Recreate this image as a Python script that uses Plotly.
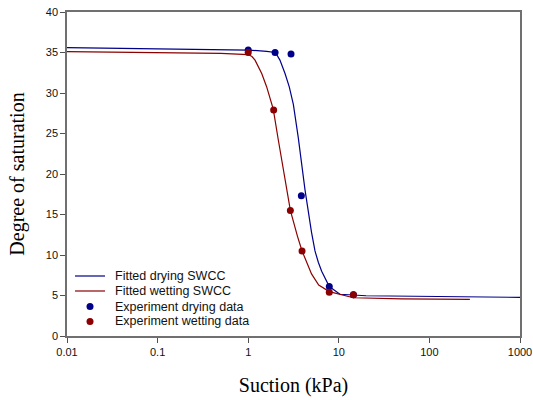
import plotly.graph_objects as go

# Fitted curves
dry_fit_x = [0.01, 0.1, 1.0, 1.6, 2.0, 2.24, 2.55, 2.84, 3.15, 3.57, 3.89, 4.24, 5.0, 5.46, 5.94, 6.47, 7.85, 10.3, 20, 100, 1000]
dry_fit_y = [35.6, 35.45, 35.3, 35.15, 35.0, 34.06, 32.4, 30.75, 28.6, 24.5, 21.0, 18.0, 12.8, 10.5, 9.1, 8.0, 6.1, 5.15, 4.97, 4.86, 4.77]
wet_fit_x = [0.01, 0.1, 0.5, 1.0, 1.1, 1.19, 1.41, 1.6, 1.77, 1.89, 2.15, 2.44, 2.92, 3.5, 3.93, 5.0, 6.0, 7.85, 11.7, 14.5, 50, 280]
wet_fit_y = [35.1, 35.0, 34.9, 34.75, 34.5, 34.06, 32.4, 30.75, 29.1, 28.0, 24.2, 20.7, 15.5, 12.3, 10.5, 7.66, 6.3, 5.48, 4.97, 4.72, 4.58, 4.52]

# Experimental data
dry_x = [1.0, 1.98, 2.97, 3.86, 7.85, 14.5]
dry_y = [35.3, 35.0, 34.8, 17.3, 6.1, 5.1]
wet_x = [1.0, 1.91, 2.92, 3.93, 7.85, 14.5]
wet_y = [35.0, 27.9, 15.5, 10.5, 5.4, 5.1]

# Tick labels
x_ticks = [0.01, 0.1, 1, 10, 100, 1000]
x_tick_text = ["0.01", "0.1", "1", "10", "100", "1000"]
y_ticks = [0, 5, 10, 15, 20, 25, 30, 35, 40]

legend_names = ["Fitted drying SWCC", "Fitted wetting SWCC",
                "Experiment drying data", "Experiment wetting data"]

BLUE = "#00008B"
RED = "#8B0000"

fig = go.Figure()
fig.add_trace(go.Scatter(x=dry_fit_x, y=dry_fit_y, mode="lines", name=legend_names[0],
                         line=dict(color=BLUE, width=1.2)))
fig.add_trace(go.Scatter(x=wet_fit_x, y=wet_fit_y, mode="lines", name=legend_names[1],
                         line=dict(color=RED, width=1.2)))
fig.add_trace(go.Scatter(x=dry_x, y=dry_y, mode="markers", name=legend_names[2],
                         marker=dict(color=BLUE, size=7)))
fig.add_trace(go.Scatter(x=wet_x, y=wet_y, mode="markers", name=legend_names[3],
                         marker=dict(color=RED, size=7)))

axis_common = dict(showline=True, linecolor="#707070", linewidth=1.5, mirror=True, automargin=False,
                   ticks="outside", ticklen=5, tickcolor="#505050", showgrid=False, zeroline=False,
                   tickfont=dict(family="Liberation Sans, Arial", size=11, color="#111"))

# Manual legend (compact spacing like the original)
row_y = [0.1852, 0.1389, 0.0910, 0.0448]
colors = [BLUE, RED, BLUE, RED]
shapes = []
annotations = []
for i, (name, yy, c) in enumerate(zip(legend_names, row_y, colors)):
    if i < 2:
        shapes.append(dict(type="line", xref="paper", yref="paper", x0=0.0177, x1=0.0839, y0=yy, y1=yy,
                           line=dict(color=c, width=1.2)))
    else:
        shapes.append(dict(type="circle", xref="paper", yref="paper", xsizemode="pixel", ysizemode="pixel",
                           xanchor=0.0508, yanchor=yy, x0=-3.5, x1=3.5, y0=-3.5, y1=3.5,
                           fillcolor=c, line=dict(width=0)))
    annotations.append(dict(text=name, xref="paper", yref="paper", x=0.1015, y=yy, xanchor="left",
                            yanchor="middle", showarrow=False,
                            font=dict(family="Liberation Sans, Arial", size=12.5, color="#111")))

fig.update_layout(
    width=533, height=400,
    margin=dict(l=67, r=13, t=12, b=64),
    paper_bgcolor="white", plot_bgcolor="white",
    xaxis=dict(type="log", range=[-2, 3], tickvals=x_ticks, ticktext=x_tick_text,
               title=dict(text="Suction (kPa)", font=dict(family="Liberation Serif, Times New Roman", size=20, color="black"),
                          standoff=21),
               **axis_common),
    yaxis=dict(range=[0, 40], tickvals=y_ticks,
               title=dict(text="Degree of saturation", font=dict(family="Liberation Serif, Times New Roman", size=20, color="black"),
                          standoff=16),
               **axis_common),
    showlegend=False,
    shapes=shapes,
    annotations=annotations,
)

fig.write_html("out.html")
